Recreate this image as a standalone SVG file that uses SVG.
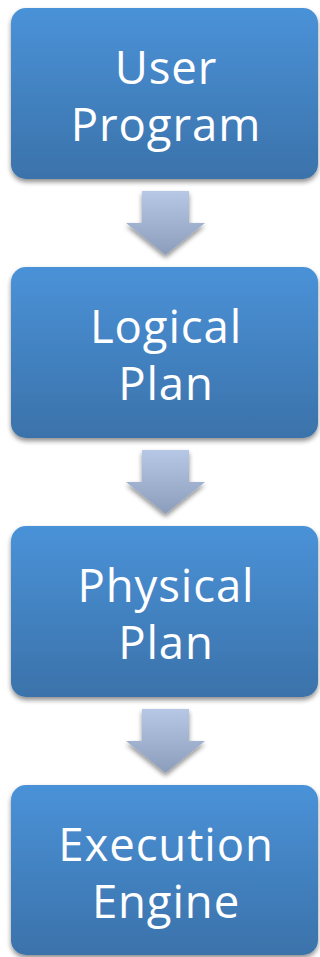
<svg xmlns="http://www.w3.org/2000/svg" width="320" height="957" viewBox="0 0 320 957">
<defs>
<linearGradient id="boxg" x1="0" y1="0" x2="0" y2="1">
<stop offset="0" stop-color="#4a92d8"/>
<stop offset="1" stop-color="#3b72aa"/>
</linearGradient>
<linearGradient id="arrg" x1="0" y1="0" x2="0" y2="1">
<stop offset="0" stop-color="#b6c8e5"/>
<stop offset="1" stop-color="#8c9dbb"/>
</linearGradient>
<filter id="sh" x="-10%" y="-10%" width="120%" height="125%">
<feGaussianBlur in="SourceAlpha" stdDeviation="2.5"/>
<feOffset dx="0" dy="3" result="b"/>
<feComponentTransfer><feFuncA type="linear" slope="0.45"/></feComponentTransfer>
<feMerge><feMergeNode/><feMergeNode in="SourceGraphic"/></feMerge>
</filter>
<path id="arrow" d="M142,0 H189 V32 H205 L165.5,64 L126,32 H142 Z"/>
</defs>
<style>
.box{fill:url(#boxg);filter:url(#sh)}
.lbl{fill:#ffffff;font-family:"Open Sans","Liberation Sans",sans-serif;font-size:45.5px;letter-spacing:0.9px;text-anchor:middle}
.arr{fill:url(#arrg);filter:url(#sh)}
</style>
<g id="connectors">
<use href="#arrow" class="arr" y="191"/>
<use href="#arrow" class="arr" y="450"/>
<use href="#arrow" class="arr" y="709"/>
</g>
<g id="user-program">
<rect class="box" x="11" y="8" width="307" height="171" rx="15"/>
<text class="lbl" x="166" y="84">User</text>
<text class="lbl" x="166" y="141">Program</text>
</g>
<g id="logical-plan">
<rect class="box" x="11" y="267" width="307" height="171" rx="15"/>
<text class="lbl" x="166" y="343">Logical</text>
<text class="lbl" x="166" y="400">Plan</text>
</g>
<g id="physical-plan">
<rect class="box" x="11" y="526" width="307" height="171" rx="15"/>
<text class="lbl" x="166" y="602">Physical</text>
<text class="lbl" x="166" y="659">Plan</text>
</g>
<g id="execution-engine">
<rect class="box" x="11" y="785" width="307" height="170" rx="15"/>
<text class="lbl" x="166" y="861">Execution</text>
<text class="lbl" x="166" y="918">Engine</text>
</g>
</svg>
